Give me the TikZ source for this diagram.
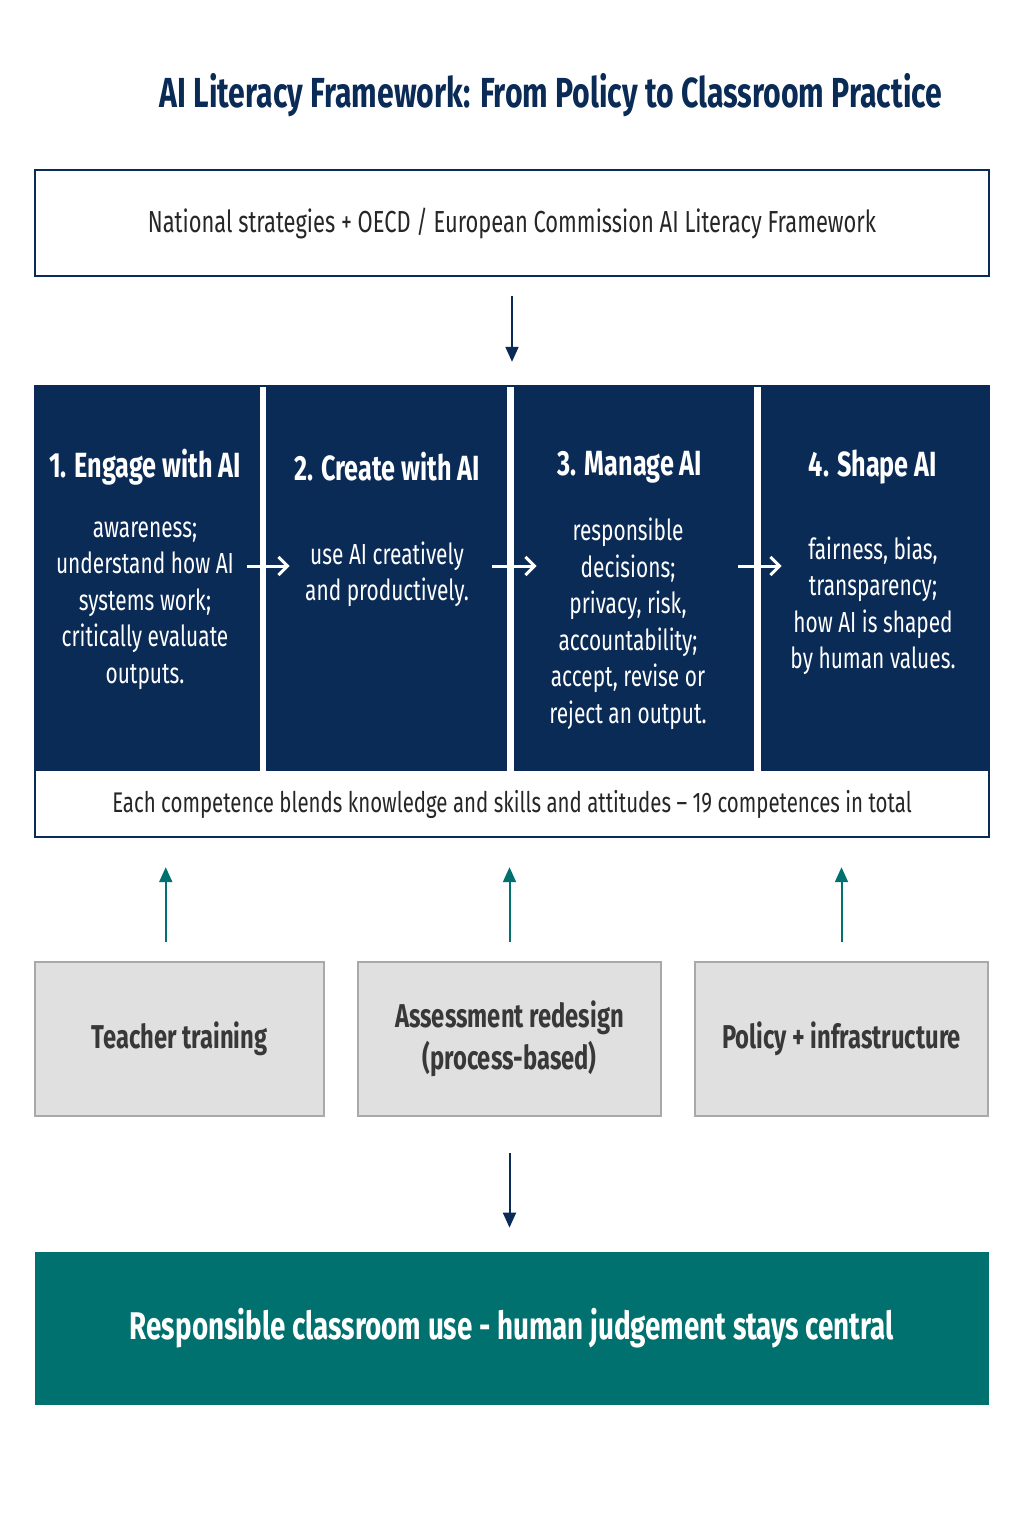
\documentclass[tikz,border=0pt]{standalone}
\usepackage{fontspec}
\setmainfont[FakeStretch=0.72]{Fira Sans}
\usetikzlibrary{arrows.meta}
\definecolor{navy}{HTML}{0B2B57}
\definecolor{tealc}{HTML}{00716F}
\definecolor{boxgray}{HTML}{E0E0E0}
\definecolor{edgegray}{HTML}{A9A9A9}
\definecolor{inkgray}{HTML}{383838}
\definecolor{ink}{HTML}{262626}

\begin{document}
\begin{tikzpicture}[x=0.5pt,y=-0.5pt,
  every text node part/.style={align=center},
  panel/.style={fill=navy,draw=none,minimum height=192.5pt,inner sep=0pt},
  head/.style={text=white,font=\bfseries\fontsize{17.5}{20}\selectfont},
  body/.style={text=white,font=\fontsize{14.5}{18.25}\selectfont},
  support/.style={fill=boxgray,draw=edgegray,line width=1pt,minimum height=77pt,text=inkgray,font=\bfseries\fontsize{16.5}{21}\selectfont},
  down/.style={navy,line width=1pt,-{Triangle[length=7.5pt,width=6.5pt]}},
  up/.style={tealc,line width=1pt,-{Triangle[length=7.5pt,width=6.5pt]}},
  across/.style={white,line width=1.5pt,-{Straight Barb[length=4.5pt,width=9pt]}}]

\useasboundingbox (0,0) rectangle (1024,1536);
\fill[white] (0,0) rectangle (1024,1536);

% title
\node[text=navy,font=\bfseries\fontsize{21}{25}\selectfont] (title) at (551,95) {AI Literacy Framework: From Policy to Classroom Practice};

% policy sources
\node[draw=navy,line width=1.2pt,minimum width=477pt,minimum height=53pt,text=ink,font=\fontsize{15.2}{18}\selectfont] (policy) at (512,223) {National strategies + OECD / European Commission AI Literacy Framework};

% the four competence domains
\node[panel,minimum width=112.5pt] (engage) at (147.5,578.5) {};
\node[panel,minimum width=120.5pt] (create) at (386.5,578.5) {};
\node[panel,minimum width=120pt] (manage) at (634,578.5) {};
\node[panel,minimum width=114pt] (shape) at (875,578.5) {};

\node[head] (engage-t) at (145,467) {1. Engage with AI};
\node[head] (create-t) at (387,467) {2. Create with AI};
\node[head] (manage-t) at (630,467) {3. Manage AI};
\node[head] (shape-t) at (873,467) {4. Shape AI};

\node[body] (engage-b) at (145,605.5) {awareness;\\understand how AI\\systems work;\\critically evaluate\\outputs.};
\node[body] (create-b) at (387,574.5) {use AI creatively\\and productively.};
\node[body] (manage-b) at (628,624) {responsible\\decisions;\\privacy, risk,\\accountability;\\accept, revise or\\reject an output.};
\node[body] (shape-b) at (873,606) {fairness, bias,\\transparency;\\how AI is shaped\\by human values.};

\draw[across] ([xshift=-6.5pt,yshift=6.25pt]engage.east) -- ([xshift=12pt,yshift=6.25pt]create.west);
\draw[across] ([xshift=-7.5pt,yshift=6.25pt]create.east) -- ([xshift=11.5pt,yshift=6.25pt]manage.west);
\draw[across] ([xshift=-8pt,yshift=6.25pt]manage.east) -- ([xshift=10.5pt,yshift=6.25pt]shape.west);

\node[fill=white,minimum width=477pt,minimum height=33pt,text=ink,font=\fontsize{14.2}{17}\selectfont] (strip) at (512,804) {Each competence blends knowledge and skills and attitudes -- 19 competences in total};
\node[draw=navy,line width=1.2pt,minimum width=477pt,minimum height=225.5pt] (frame) at (512,611.5) {};

\draw[down,shorten <=9.5pt,shorten >=11.5pt] (policy.south) -- (frame.north);

% enabling conditions
\node[support,minimum width=144.5pt] (teacher) at (179.5,1039) {Teacher training};
\node[support,minimum width=151.5pt] (assess) at (509.5,1039) {Assessment redesign\\(process-based)};
\node[support,minimum width=146.5pt] (infra) at (841.5,1039) {Policy + infrastructure};

\draw[up,shorten <=9.5pt,shorten >=14.5pt] (teacher.100) -- (teacher.100 |- frame.south);
\draw[up,shorten <=9.5pt,shorten >=14.5pt] (assess.north) -- (assess.north |- frame.south);
\draw[up,shorten <=9.5pt,shorten >=14.5pt] (infra.north) -- (infra.north |- frame.south);

% outcome
\node[fill=tealc,minimum width=477pt,minimum height=76.5pt,text=white,font=\bfseries\fontsize{19.3}{23}\selectfont] (outcome) at (512,1328.5) {Responsible classroom use - human judgement stays central};

\draw[down,shorten <=18pt,shorten >=12pt] (assess.south) -- (assess.south |- outcome.north);

\end{tikzpicture}
\end{document}
